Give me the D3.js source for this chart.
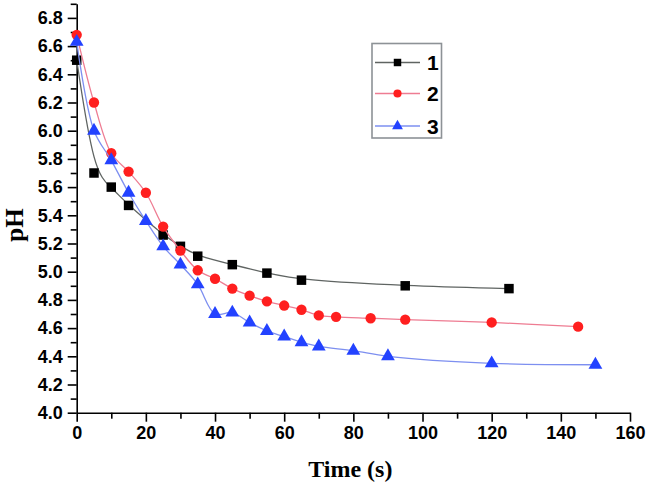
<!DOCTYPE html>
<html>
<head>
<meta charset="utf-8">
<script src="https://cdn.jsdelivr.net/npm/d3@7"></script>
<style>
  html, body { margin: 0; padding: 0; background: #fff; }
  svg { display: block; }
</style>
</head>
<body>
<svg id="chart" width="648" height="491"></svg>
<script>
// ---- data ----
const seriesNames = ["1", "2", "3"];
const time1 = [0, 5, 10, 15, 25, 30, 35, 45, 55, 65, 95, 125];
const ph1   = [6.50, 5.70, 5.60, 5.47, 5.26, 5.18, 5.11, 5.05, 4.99, 4.94, 4.90, 4.88];
const time2 = [0, 5, 10, 15, 20, 25, 30, 35, 40, 45, 50, 55, 60, 65, 70, 75, 85, 95, 120, 145];
const ph2   = [6.68, 6.20, 5.84, 5.71, 5.56, 5.32, 5.15, 5.01, 4.95, 4.88, 4.83, 4.79, 4.76, 4.73, 4.69, 4.68, 4.67, 4.66, 4.64, 4.61];
const time3 = [0, 5, 10, 15, 20, 25, 30, 35, 40, 45, 50, 55, 60, 65, 70, 80, 90, 120, 150];
const ph3   = [6.63, 6.00, 5.79, 5.56, 5.36, 5.18, 5.05, 4.91, 4.70, 4.71, 4.64, 4.58, 4.54, 4.50, 4.47, 4.44, 4.40, 4.35, 4.34];
const xTickValues = [0, 20, 40, 60, 80, 100, 120, 140, 160];
const xMinorValues = [10, 30, 50, 70, 90, 110, 130, 150];
const yTickValues = [4.0, 4.2, 4.4, 4.6, 4.8, 5.0, 5.2, 5.4, 5.6, 5.8, 6.0, 6.2, 6.4, 6.6, 6.8];
const yMinorValues = [4.1, 4.3, 4.5, 4.7, 4.9, 5.1, 5.3, 5.5, 5.7, 5.9, 6.1, 6.3, 6.5, 6.7, 6.9];
const xTitle = "Time (s)";
const yTitle = "pH";

// ---- layout ----
const svg = d3.select("#chart");
const x = d3.scaleLinear().domain([0, 160]).range([76.7, 630]);
const y = d3.scaleLinear().domain([4.0, 6.9]).range([412.7, 3.8]);

const styles = [
  { line: "#5f6462", marker: "#000000", shape: d3.symbolSquare, size: 90, curve: d3.curveBasis },
  { line: "#ee7c92", marker: "#ff1f1f", shape: d3.symbolCircle, size: 84, curve: d3.curveCatmullRom.alpha(0.5) },
  { line: "#7d8ff0", marker: "#2342ff", shape: d3.symbolTriangle, size: 82, curve: d3.curveCatmullRom.alpha(0.5) }
];
const series = [
  { name: seriesNames[0], xs: time1, ys: ph1 },
  { name: seriesNames[1], xs: time2, ys: ph2 },
  { name: seriesNames[2], xs: time3, ys: ph3 }
];

// ---- axes ----
const fontTick = "bold 18px 'Liberation Sans', Arial, sans-serif";
svg.append("g").attr("transform", `translate(0,${y(4.0)})`)
  .call(d3.axisBottom(x).tickValues(xTickValues).tickFormat(d3.format("d")).tickSize(9).tickSizeOuter(0).tickPadding(5));
svg.append("g").attr("transform", `translate(0,${y(4.0)})`)
  .call(d3.axisBottom(x).tickValues(xMinorValues).tickFormat("").tickSize(6).tickSizeOuter(0))
  .select(".domain").remove();
svg.append("g").attr("transform", `translate(${x(0)},0)`)
  .call(d3.axisLeft(y).tickValues(yTickValues).tickFormat(d3.format(".1f")).tickSize(9).tickSizeOuter(0).tickPadding(5));
svg.append("g").attr("transform", `translate(${x(0)},0)`)
  .call(d3.axisLeft(y).tickValues(yMinorValues).tickFormat("").tickSize(6).tickSizeOuter(0))
  .select(".domain").remove();

svg.selectAll(".domain, .tick line").attr("stroke", "#000").attr("stroke-width", 1.6);
svg.selectAll(".tick text").style("font", fontTick).attr("fill", "#000");

// axis titles
svg.append("text")
  .attr("x", (x(0) + x(160)) / 2 - 3).attr("y", 477)
  .attr("text-anchor", "middle")
  .style("font", "bold 24px 'Liberation Serif', 'Times New Roman', serif")
  .text(xTitle);
svg.append("text")
  .attr("transform", `translate(23,${225}) rotate(-90)`)
  .attr("text-anchor", "middle")
  .style("font", "bold 25px 'Liberation Serif', 'Times New Roman', serif")
  .text(yTitle);

// ---- series ----
series.forEach((s, i) => {
  const st = styles[i];
  const pts = s.xs.map((t, k) => [t, s.ys[k]]);
  const line = d3.line().x(d => x(d[0])).y(d => y(d[1])).curve(st.curve);
  svg.append("path").datum(pts)
    .attr("d", line)
    .attr("fill", "none")
    .attr("stroke", st.line)
    .attr("stroke-width", 1.3);
  const sym = d3.symbol().type(st.shape).size(st.size);
  svg.append("g").selectAll("path").data(pts).join("path")
    .attr("d", sym)
    .attr("transform", d => `translate(${x(d[0])},${y(d[1])})`)
    .attr("fill", st.marker);
});

// ---- legend ----
const lg = svg.append("g");
lg.append("rect").attr("x", 372).attr("y", 43.5).attr("width", 69.5).attr("height", 94.5)
  .attr("fill", "#fff").attr("stroke", "#8d9296").attr("stroke-width", 1.6);
const legendY = [62.5, 93.5, 126];
series.forEach((s, i) => {
  const st = styles[i];
  lg.append("line").attr("x1", 375).attr("x2", 420).attr("y1", legendY[i]).attr("y2", legendY[i])
    .attr("stroke", st.line).attr("stroke-width", 1.3);
  lg.append("path").attr("d", d3.symbol().type(st.shape).size(st.size * 0.62)())
    .attr("transform", `translate(397.5,${legendY[i]})`).attr("fill", st.marker);
  lg.append("text").attr("x", 427).attr("y", legendY[i] + 7.5)
    .style("font", "bold 21px 'Liberation Sans', Arial, sans-serif")
    .text(s.name);
});
</script>
</body>
</html>
